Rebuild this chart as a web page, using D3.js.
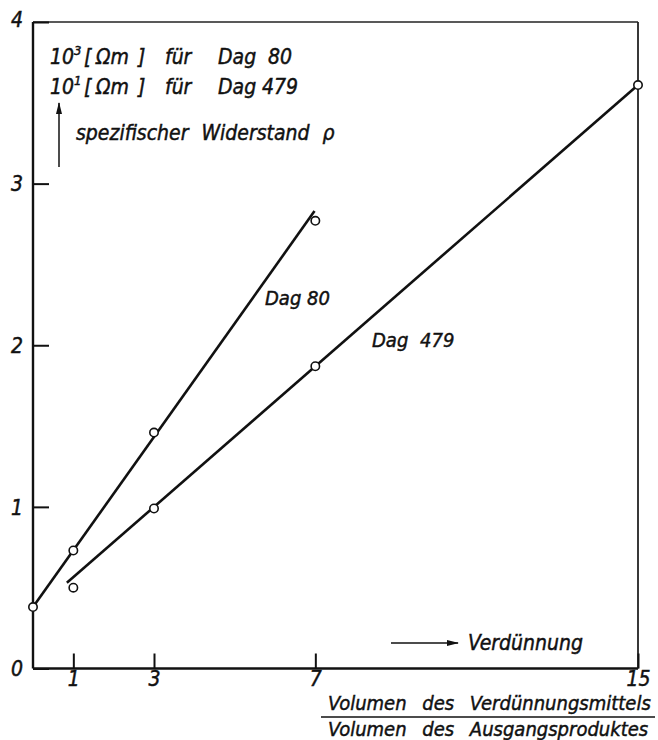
<!DOCTYPE html>
<html>
<head>
<meta charset="utf-8">
<script src="https://cdn.jsdelivr.net/npm/d3@7"></script>
<style>
  body { margin: 0; background: #fff; }
  text { font-family: "DejaVu Sans Condensed", "DejaVu Sans", sans-serif; font-style: italic; fill: #111;
         stroke: #111; stroke-width: 0.45px; }
  .tick text { font-size: 21px; }
</style>
</head>
<body>
<div id="main"></div>
<script>
// values
var dag80X = [0, 1, 3, 7];
var dag80Y = [0.38, 0.73, 1.46, 2.77];
var dag80Line = [[0, 0.38], [6.98, 2.83]];

var dag479X = [1, 3, 7, 15];
var dag479Y = [0.50, 0.99, 1.87, 3.61];
var dag479Line = [[0.84, 0.53], [15, 3.61]];

var xTicks = [1, 3, 7, 15];
var yTicks = [0, 1, 2, 3, 4];

var ctx = { w: 658, h: 740 };

var svg = d3.select("#main").append("svg")
    .attr("width", ctx.w)
    .attr("height", ctx.h);

ctx.x = d3.scaleLinear().domain([0, 15]).range([33, 638]);
ctx.y = d3.scaleLinear().domain([0, 4]).range([668.5, 22]);

// frame
svg.append("line").attr("x1", ctx.x(0)).attr("x2", ctx.x(0))
   .attr("y1", ctx.y(4)).attr("y2", ctx.y(0))
   .attr("stroke", "#111").attr("stroke-width", 2.4);
svg.append("line").attr("x1", ctx.x(0)).attr("x2", ctx.x(15))
   .attr("y1", ctx.y(0)).attr("y2", ctx.y(0))
   .attr("stroke", "#111").attr("stroke-width", 2.4);
svg.append("line").attr("x1", ctx.x(0)).attr("x2", ctx.x(15))
   .attr("y1", ctx.y(4)).attr("y2", ctx.y(4))
   .attr("stroke", "#222").attr("stroke-width", 1.6);
svg.append("line").attr("x1", ctx.x(15)).attr("x2", ctx.x(15))
   .attr("y1", ctx.y(4)).attr("y2", ctx.y(0))
   .attr("stroke", "#222").attr("stroke-width", 1.8);

// axes, ticks pointing inward
var yAxis = svg.append("g")
    .attr("transform", `translate(${ctx.x(0)},0)`)
    .call(d3.axisLeft(ctx.y).tickValues(yTicks).tickFormat(d3.format("d"))
            .tickSizeInner(-16).tickSizeOuter(0).tickPadding(10));
yAxis.select(".domain").remove();
yAxis.selectAll("line").attr("stroke", "#111").attr("stroke-width", 2);
yAxis.selectAll("text").attr("dy", "0.35em");
yAxis.selectAll(".tick").filter(function(d){ return d === 4; })
     .select("text").attr("dy", "0.2em");

var xAxis = svg.append("g")
    .attr("transform", `translate(0,${ctx.y(0)})`)
    .call(d3.axisBottom(ctx.x).tickValues(xTicks).tickSizeInner(-15).tickSizeOuter(0).tickPadding(4));
xAxis.select(".domain").remove();
xAxis.selectAll("line").attr("stroke", "#111").attr("stroke-width", 2);
xAxis.selectAll("text").attr("dy", "0.65em");

// series lines
var line = d3.line().x(function(d){ return ctx.x(d[0]); })
                    .y(function(d){ return ctx.y(d[1]); });
[dag80Line, dag479Line].forEach(function(seg){
  svg.append("path").attr("d", line(seg))
     .attr("fill", "none").attr("stroke", "#111").attr("stroke-width", 2.6);
});

// points
var pts = dag80X.map(function(v, i){ return [v, dag80Y[i]]; })
    .concat(dag479X.map(function(v, i){ return [v, dag479Y[i]]; }));
svg.append("g").selectAll("circle")
  .data(pts)
  .enter()
  .append("circle")
  .attr("cx", function(d){ return ctx.x(d[0]); })
  .attr("cy", function(d){ return ctx.y(d[1]); })
  .attr("r", 4.2)
  .attr("fill", "#fff")
  .attr("stroke", "#111")
  .attr("stroke-width", 1.6);

// series labels
svg.append("text").attr("x", 265).attr("y", 305).attr("font-size", 20).text("Dag 80");
svg.append("text").attr("x", 372).attr("y", 347).attr("font-size", 20)
   .attr("word-spacing", 6).text("Dag 479");

// y axis caption, words placed as in the lettering
var capWords = [["[", 84], ["\u03A9m", 96], ["]", 138], ["für", 165], ["Dag", 218]];
[["3", "80", 268, 64], ["1", "479", 262, 94]].forEach(function(r){
  var t = svg.append("text").attr("x", 50).attr("y", r[3]).attr("font-size", 21);
  t.append("tspan").text("10");
  t.append("tspan").attr("dy", -9).attr("font-size", 13).text(r[0]);
  capWords.forEach(function(w, i){
    t.append("tspan").attr("x", w[1]).attr("dy", i === 0 ? 9 : 0).text(w[0]);
  });
  t.append("tspan").attr("x", r[2]).text(r[1]);
});
svg.append("text").attr("x", 76).attr("y", 140).attr("font-size", 21).attr("word-spacing", 7)
   .text("spezifischer  Widerstand  \u03C1");

// arrows
svg.append("defs").append("marker")
   .attr("id", "ah").attr("viewBox", "0 0 12 6").attr("refX", 11).attr("refY", 3)
   .attr("markerWidth", 12).attr("markerHeight", 6).attr("markerUnits", "userSpaceOnUse")
   .attr("orient", "auto")
   .append("path").attr("d", "M0,0L12,3L0,6Z").attr("fill", "#111");
svg.append("line").attr("x1", 59).attr("x2", 59).attr("y1", 167).attr("y2", 103)
   .attr("stroke", "#111").attr("stroke-width", 1.5).attr("marker-end", "url(#ah)");
svg.append("line").attr("x1", 391).attr("x2", 458).attr("y1", 643).attr("y2", 643)
   .attr("stroke", "#111").attr("stroke-width", 1.5).attr("marker-end", "url(#ah)");
svg.append("text").attr("x", 468).attr("y", 650).attr("font-size", 21).text("Verdünnung");

// x axis caption as a fraction
svg.append("text").attr("x", 328).attr("y", 710).attr("font-size", 20).attr("word-spacing", 10)
   .text("Volumen des Verdünnungsmittels");
svg.append("line").attr("x1", 321).attr("x2", 655).attr("y1", 717).attr("y2", 717)
   .attr("stroke", "#111").attr("stroke-width", 1.6);
svg.append("text").attr("x", 328).attr("y", 736).attr("font-size", 20).attr("word-spacing", 10)
   .text("Volumen des Ausgangsproduktes");
</script>
</body>
</html>
